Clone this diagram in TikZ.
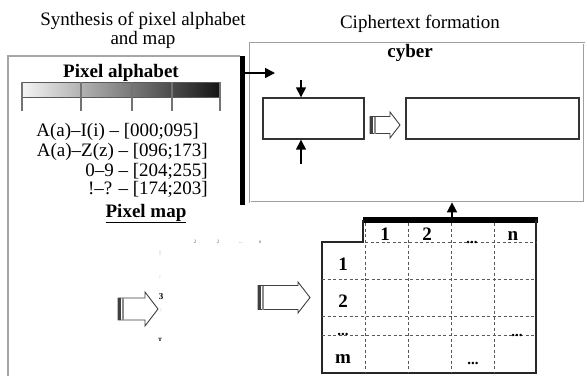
\documentclass[tikz,border=0pt]{standalone}
\usepackage{fontspec}
\setmainfont{Liberation Serif}
\usetikzlibrary{arrows.meta}
\newcommand\BlkArr[6]{% x, y centre, length, shaft height, head height, head length
  \begin{scope}[shift={(#1,#2)}]
    \draw[line width=0.9pt, draw=black!75, fill=white]
      (0,-#4/2) -- (#3-#6,-#4/2) -- (#3-#6,-#5/2) -- (#3,0) -- (#3-#6,#5/2) -- (#3-#6,#4/2) -- (0,#4/2) -- cycle;
    \fill[black!75] (0,-#4/2) rectangle (3,#4/2);
    \fill[black!45] (4,-#4/2) rectangle (5.5,#4/2);
  \end{scope}}
\begin{document}
\begin{tikzpicture}[x=1pt,y=-1pt,
  txt/.style={font=\fontsize{19}{20}\selectfont, inner sep=0pt},
  btxt/.style={font=\fontsize{19}{20}\selectfont\bfseries, inner sep=0pt},
  dots/.style={font=\fontsize{15}{15}\selectfont\bfseries, inner sep=0pt},
  tinytxt/.style={font=\fontsize{5}{5}\selectfont, inner sep=0pt, text=black!60},
  framel/.style={draw=gray!70, line width=1.5pt},
  frameb/.style={draw=gray!75, double=white, line width=0.7pt, double distance=0.9pt},
  arr/.style={-{Triangle[length=10pt,width=10pt]}, line width=1.5pt},
  rbox/.style={draw=black!80, line width=1.4pt, inner sep=0pt},
  gridl/.style={dash pattern=on 3pt off 2.5pt, line width=0.9pt, draw=black!65}
]
\useasboundingbox (0,0) rectangle (587,376);
\fill[white] (0,0) rectangle (587,376);

% titles
\node[font=\fontsize{19}{16}\selectfont, inner sep=0pt, align=center, anchor=base] (t1) at (143,44)
  {Synthesis of pixel alphabet\\and map};
\node[txt, anchor=base] (t3) at (420,28) {Ciphertext formation};

% left frame
\draw[framel] (240,56) -- (8,56) -- (8,376);
\node[fill=black, minimum width=5pt, minimum height=149pt, inner sep=0pt] (bar) at (242.5,130.5) {};

% pixel alphabet
\node[btxt, anchor=base] (pa) at (121,77) {\underline{Pixel alphabet}};
\shade[left color=gray!8, right color=black!92] (22,82) rectangle (220,97);
\draw[draw=black!65, line width=1pt] (22,82) rectangle (220,97);
\foreach \xx in {22,81,132,172,220}
  \draw[draw=black!55, line width=1.1pt] (\xx,82) -- (\xx,111);

\node[txt, anchor=base east] (l1) at (199,136.5) {A(a)–I(i) – [000;095]};
\node[txt, anchor=base east] (l2) at (208,156.5) {A(a)–Z(z) – [096;173]};
\node[txt, anchor=base east] (l3) at (208,176) {0–9 – [204;255]};
\node[txt, anchor=base east] (l4) at (208,194.5) {!–? – [174;203]};
\node[btxt, anchor=base] (pm) at (146,217) {\underline{Pixel map}};

% tiny pixel map
\node[tinytxt] (s1) at (195,242) {2};
\node[tinytxt] (s2) at (218,242) {2};
\node[tinytxt] (s3) at (241,243) {...};
\node[tinytxt] (s4) at (260,242) {n};
\node[tinytxt] (s5) at (160,253) {|};
\node[tinytxt] (s6) at (160,277) {:};
\node[font=\fontsize{9}{9}\selectfont\bfseries, inner sep=0pt] (s7) at (161,297) {3};
\node[tinytxt] (s8) at (161,310) {:};
\node[font=\fontsize{7}{7}\selectfont\bfseries, inner sep=0pt] (s9) at (160,340) {т};

% block arrows
\BlkArr{118}{309}{40}{22}{34}{13}
\BlkArr{258}{297.5}{52}{24}{31}{12}
\BlkArr{370}{125}{30}{17}{26}{10}

% cyber frame
\node[frameb, minimum width=334pt, minimum height=159pt, inner sep=0pt] (cyb) at (417,122.5) {};
\node[btxt, anchor=base] (cy) at (410,57) {cyber};
\node[rbox, minimum width=101pt, minimum height=41pt] (inbox) at (313.5,118.5) {};
\node[rbox, minimum width=173pt, minimum height=41pt] (outbox) at (492.5,118.5) {};
\coordinate (barend) at (275,73);
\draw[arr] (bar.east |- barend) -- (barend);
\coordinate (dtop) at (301,80);
\draw[arr] (dtop) -- (dtop |- inbox.north);
\coordinate (ubot) at (301,164);
\draw[arr] (ubot) -- (ubot |- inbox.south);

% table
\node[fill=black, minimum width=175pt, minimum height=5.5pt, inner sep=0pt] (tbar) at (450.5,220) {};
\coordinate (tup) at (452,217);
\draw[arr] (tup) -- (tup |- cyb.south);
\draw[line width=1.5pt, draw=black!85] (363,220) -- (363,242) -- (322,242) -- (322,373) -- (536,373) -- (536,220);
\draw[gridl] (365,242) -- (536,242);
\foreach \yy in {279,316,335}
  \draw[gridl] (322,\yy) -- (536,\yy);
\foreach \xx in {365,408,451,494}
  \draw[gridl] (\xx,223) -- (\xx,373);
\node[btxt, anchor=base] (h1) at (385,240) {1};
\node[btxt, anchor=base] (h2) at (427,240) {2};
\node[dots, anchor=base] (h3) at (472,243) {...};
\node[btxt, anchor=base] (h4) at (513,240) {n};
\node[btxt, anchor=base] (r1) at (343,270) {1};
\node[btxt, anchor=base] (r2) at (343,307) {2};
\node[dots, anchor=base] (r3) at (343,335) {...};
\node[btxt, anchor=base] (r4) at (343,363) {m};
\node[dots, anchor=base] (c1) at (517,336) {...};
\node[dots, anchor=base] (c2) at (473,364) {...};
\end{tikzpicture}
\end{document}
